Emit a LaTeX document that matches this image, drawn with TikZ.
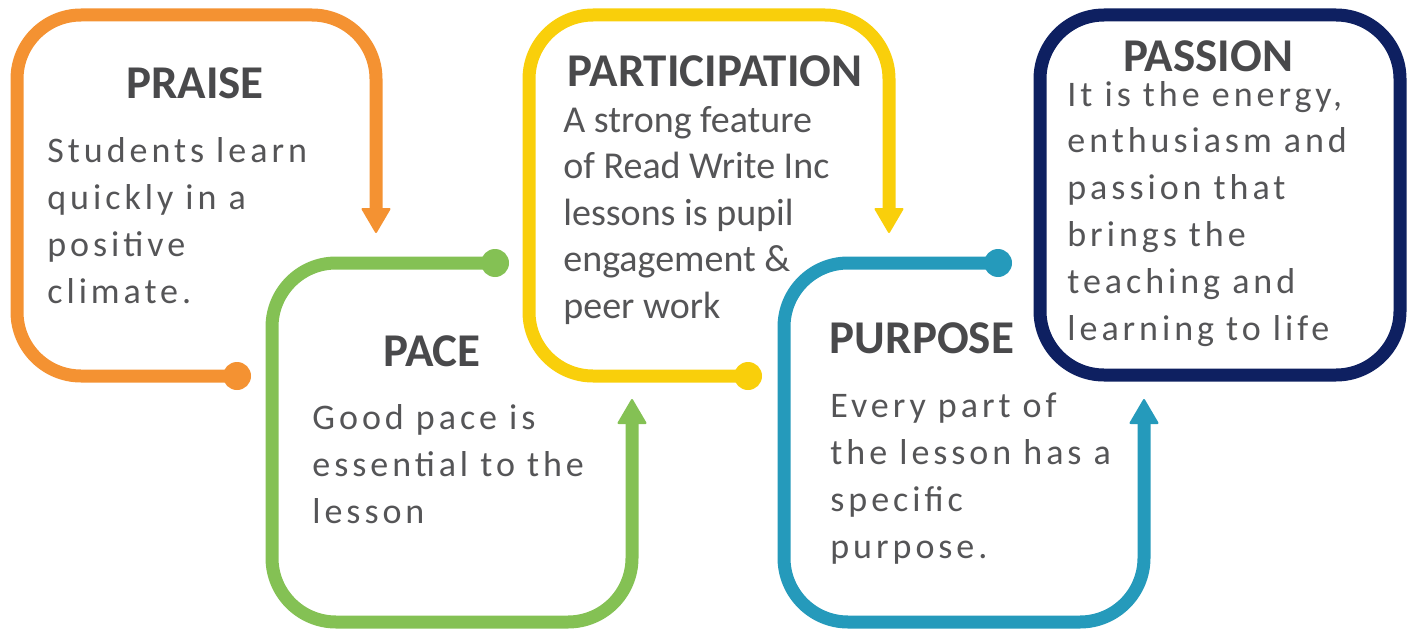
\documentclass[tikz,border=0pt]{standalone}
\usepackage{fontspec}
\setmainfont{Carlito}
\newfontfamily\spaced[LetterSpace=11]{Carlito}
\usetikzlibrary{arrows.meta}

\definecolor{praisecol}{RGB}{244,146,50}
\definecolor{pacecol}{RGB}{132,193,84}
\definecolor{partcol}{RGB}{249,207,11}
\definecolor{purpcol}{RGB}{37,154,187}
\definecolor{passcol}{RGB}{14,32,97}
\definecolor{headgray}{RGB}{73,73,75}
\definecolor{bodygray}{RGB}{85,85,87}

\begin{document}
\begin{tikzpicture}[x=0.5pt,y=-0.5pt]
\tikzstyle{loop}=[line width=6.5pt,rounded corners=32pt,-{Triangle[width=15pt,length=13pt,round,line width=1pt]}]
\tikzstyle{dot}=[circle,minimum size=14pt,inner sep=0pt]
\tikzstyle{head}=[anchor=base,inner sep=0pt,text=headgray,font=\fontsize{23.5}{28}\selectfont\bfseries]
% body texts hang from the baseline of their last line
\tikzstyle{body}=[anchor=base west,inner sep=0pt,align=left,text=bodygray,font=\spaced\fontsize{18}{23.4}\selectfont]
    \useasboundingbox (0,0) rectangle (1413,631);
    % ends of the four open loops
    \node[dot,fill=praisecol](praisedot) at (237,376){};
    \node[dot,fill=pacecol](pacedot) at (495,263){};
    \node[dot,fill=partcol](partdot) at (748,376){};
    \node[dot,fill=purpcol](purpdot) at (998,263){};
    \coordinate(praisetip) at (376,233);
    \coordinate(pacetip) at (632,399);
    \coordinate(parttip) at (889,233);
    \coordinate(purptip) at (1144,399);
    \draw[loop,praisecol](praisedot.center) -| (17,15) -| (praisetip);
    \draw[loop,pacecol](pacedot.center) -| (272,622) -| (pacetip);
    \draw[loop,partcol](partdot.center) -| (529,15) -| (parttip);
    \draw[loop,purpcol](purpdot.center) -| (784,622) -| (purptip);
    \draw[line width=6.5pt,rounded corners=32pt,passcol] (1040,15) rectangle (1400,375);
    % titles
    \node[head](praise) at (195,98){PRAISE};
    \node[head](pace) at (432,366){PACE};
    \node[head](part) at (715,87){PARTICIPATION};
    \node[head](purp) at (922,353){PURPOSE};
    \node[head](pass) at (1208,72){PASSION};
    % texts
    \node[body](praisetxt) at (47,303){Students learn\\quickly in a\\positive\\climate.};
    \node[body](pacetxt) at (312,523){Good pace is\\essential to the\\lesson};
    \node[body,font=\fontsize{19}{23.2}\selectfont](parttxt) at (563,318){A strong feature\\of Read Write Inc\\lessons is pupil\\engagement \&\\peer work};
    \node[body](purptxt) at (830,558){Every part of\\the lesson has a\\specific\\purpose.};
    \node[body](passtxt) at (1067,340){It is the energy,\\enthusiasm and\\passion that\\brings the\\teaching and\\learning to life};
\end{tikzpicture}
\end{document}
